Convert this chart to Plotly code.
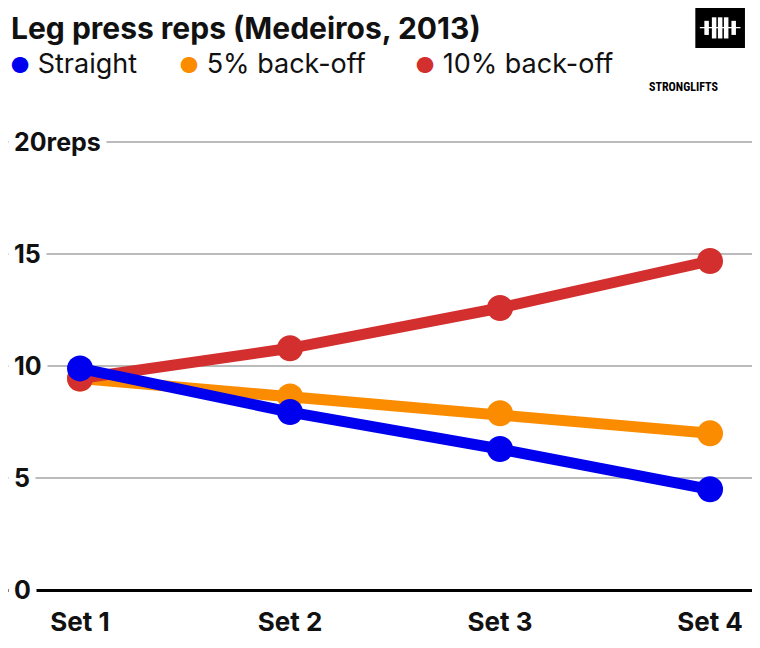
import plotly.graph_objects as go

sets = ["Set 1", "Set 2", "Set 3", "Set 4"]
straight = [9.9, 7.95, 6.3, 4.5]
backoff5 = [9.45, 8.65, 7.9, 7.0]
backoff10 = [9.45, 10.8, 12.6, 14.7]
ytick_vals = [0, 5, 10, 15, 20]
ytick_text = ["0", "5", "10", "15", "20reps"]

FONT = "Inter"
xs = list(range(len(sets)))

fig = go.Figure()
for name, ys, col in [("5% back-off", backoff5, "#fb8c00"),
                      ("10% back-off", backoff10, "#d32f2f"),
                      ("Straight", straight, "#0000ee")]:
    fig.add_trace(go.Scatter(x=xs, y=ys, name=name, mode="lines+markers",
                             line=dict(color=col, width=11),
                             marker=dict(color=col, size=26)))

# legend drawn manually so the order matches (Straight first)
leg = [("Straight", "#0000ee", 0.0), ("5% back-off", "#fb8c00", 0.225), ("10% back-off", "#d32f2f", 0.538)]
for txt, col, x in leg:
    fig.add_annotation(xref="paper", yref="paper", x=x, y=1.121, xanchor="left", yanchor="middle",
                       text=f"<span style='color:{col};font-size:22px'>●</span> {txt}", showarrow=False,
                       font=dict(family=FONT, size=27, color="#111"))

for v, t in zip(ytick_vals, ytick_text):
    fig.add_annotation(xref="paper", yref="y", x=0, y=v, xanchor="left", yanchor="middle",
                       text=f"<b>{t}</b>", showarrow=False, bgcolor="white", borderpad=5,
                       font=dict(family=FONT, size=25, color="#111"))

# logo
fig.add_shape(type="rect", xref="paper", yref="paper", x0=0.914, x1=0.980, y0=1.153, y1=1.24,
              fillcolor="black", line=dict(width=0), layer="above")
for bx, bh in [(0.929, 0.03), (0.939, 0.045), (0.947, 0.045), (0.955, 0.045), (0.965, 0.03)]:
    fig.add_shape(type="rect", xref="paper", yref="paper", x0=bx - 0.003, x1=bx + 0.003,
                  y0=1.196 - bh / 2, y1=1.196 + bh / 2, fillcolor="white", line=dict(width=0), layer="above")
fig.add_shape(type="rect", xref="paper", yref="paper", x0=0.92, x1=0.974, y0=1.195, y1=1.198,
              fillcolor="white", line=dict(width=0), layer="above")
fig.add_annotation(xref="paper", yref="paper", x=0.947, y=1.09, text="<b>STRONGLIFTS</b>",
                   showarrow=False, font=dict(family="Roboto Condensed, Roboto", size=12, color="black"))

fig.update_layout(
    width=752, height=640, plot_bgcolor="white", paper_bgcolor="white",
    margin=dict(l=0, r=0, t=112, b=58), showlegend=False,
    title=dict(text="<b>Leg press reps (Medeiros, 2013)</b>", x=0.004, xanchor="left",
               y=0.968, yanchor="middle", font=dict(family=FONT, size=30, color="#111")),
    xaxis=dict(range=[-0.343, 3.238], tickvals=xs, ticktext=[f"<b>{s}</b>" for s in sets],
               showgrid=False, zeroline=False, ticklabelstandoff=14,
               tickfont=dict(family=FONT, size=26, color="#111")),
    yaxis=dict(range=[0, 21], tickvals=ytick_vals, showticklabels=False,
               gridcolor="#bbbbbb", gridwidth=1.5, zeroline=True, zerolinecolor="black",
               zerolinewidth=3),
)
fig.write_html("out.html")
